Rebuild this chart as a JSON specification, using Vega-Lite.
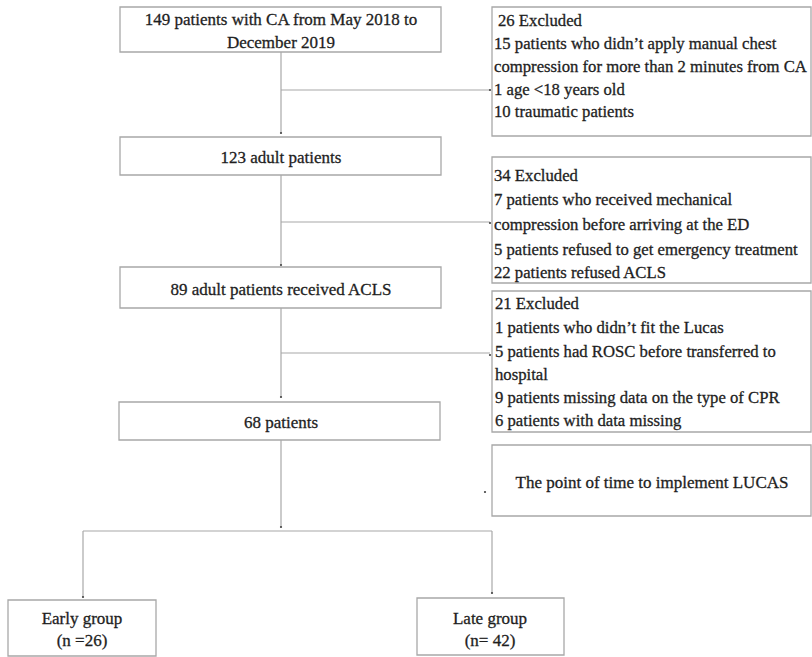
{
  "$schema": "https://vega.github.io/schema/vega-lite/v6.json",
  "width": 812,
  "height": 657,
  "autosize": {"type": "fit", "contains": "padding"},
  "padding": 0,
  "background": "white",
  "config": {"view": {"stroke": null}},
  "datasets": {
    "boxes": [
      {"x1": 120, "x2": 441, "y1": 7, "y2": 52},
      {"x1": 492, "x2": 811, "y1": 7, "y2": 136},
      {"x1": 120, "x2": 441, "y1": 137, "y2": 175},
      {"x1": 492, "x2": 811, "y1": 157, "y2": 283},
      {"x1": 120, "x2": 441, "y1": 267, "y2": 308},
      {"x1": 492, "x2": 811, "y1": 291, "y2": 432},
      {"x1": 119, "x2": 440, "y1": 402, "y2": 440},
      {"x1": 492, "x2": 811, "y1": 445, "y2": 516},
      {"x1": 8, "x2": 156, "y1": 600, "y2": 656},
      {"x1": 417, "x2": 564, "y1": 598, "y2": 655}
    ],
    "lines": [
      {"x1": 281, "y1": 52, "x2": 281, "y2": 133},
      {"x1": 281, "y1": 90, "x2": 490, "y2": 90},
      {"x1": 281, "y1": 175, "x2": 281, "y2": 265},
      {"x1": 281, "y1": 222, "x2": 490, "y2": 222},
      {"x1": 281, "y1": 308, "x2": 281, "y2": 397},
      {"x1": 281, "y1": 353, "x2": 490, "y2": 353},
      {"x1": 281, "y1": 440, "x2": 281, "y2": 527},
      {"x1": 83, "y1": 531, "x2": 492, "y2": 531},
      {"x1": 83, "y1": 531, "x2": 83, "y2": 597},
      {"x1": 492, "y1": 531, "x2": 492, "y2": 593}
    ],
    "dots": [
      {"x": 281, "y": 133},
      {"x": 490, "y": 90},
      {"x": 281, "y": 265},
      {"x": 490, "y": 223},
      {"x": 281, "y": 397},
      {"x": 490, "y": 355},
      {"x": 281, "y": 527},
      {"x": 485, "y": 492},
      {"x": 83, "y": 597},
      {"x": 492, "y": 593}
    ],
    "ctext": [
      {"x": 281, "y": 20, "label": "149 patients with CA from May 2018 to"},
      {"x": 281, "y": 43, "label": "December 2019"},
      {"x": 281, "y": 158, "label": "123 adult patients"},
      {"x": 281, "y": 290, "label": "89 adult patients received ACLS"},
      {"x": 281, "y": 423, "label": "68 patients"},
      {"x": 652, "y": 483, "label": "The point of time to implement LUCAS"},
      {"x": 82, "y": 619, "label": "Early group"},
      {"x": 490, "y": 619, "label": "Late group"},
      {"x": 82, "y": 641, "label": "(n =26)"},
      {"x": 490, "y": 641, "label": "(n= 42)"}
    ],
    "ltext": [
      {"x": 498, "y": 21, "label": "26 Excluded"},
      {"x": 494, "y": 44, "label": "15 patients who didn’t apply manual chest"},
      {"x": 494, "y": 67, "label": "compression for more than 2 minutes from CA"},
      {"x": 494, "y": 90, "label": "1 age <18 years old"},
      {"x": 494, "y": 112, "label": "10 traumatic patients"},
      {"x": 494, "y": 176, "label": "34 Excluded"},
      {"x": 494, "y": 200, "label": "7 patients who received mechanical"},
      {"x": 494, "y": 225, "label": "compression before arriving at the ED"},
      {"x": 494, "y": 250, "label": "5 patients refused to get emergency treatment"},
      {"x": 494, "y": 273, "label": "22 patients refused ACLS"},
      {"x": 495, "y": 304, "label": "21 Excluded"},
      {"x": 495, "y": 328, "label": "1 patients who didn’t fit the Lucas"},
      {"x": 495, "y": 352, "label": "5 patients had ROSC before transferred to"},
      {"x": 495, "y": 375, "label": "hospital"},
      {"x": 495, "y": 398, "label": "9 patients missing data on the type of CPR"},
      {"x": 495, "y": 421, "label": "6 patients with data missing"}
    ]
  },
  "layer": [
    {
      "data": {"name": "boxes"},
      "mark": {"type": "rect", "fill": "white", "stroke": "#a8a8a8", "strokeWidth": 1.3},
      "encoding": {
        "x": {"field": "x1", "type": "quantitative", "scale": {"domain": [0, 812]}, "axis": null},
        "x2": {"field": "x2"},
        "y": {"field": "y1", "type": "quantitative", "scale": {"domain": [657, 0]}, "axis": null},
        "y2": {"field": "y2"}
      }
    },
    {
      "data": {"name": "lines"},
      "mark": {"type": "rule", "stroke": "#a8a8a8", "strokeWidth": 1.2},
      "encoding": {
        "x": {"field": "x1", "type": "quantitative", "scale": {"domain": [0, 812]}, "axis": null},
        "x2": {"field": "x2"},
        "y": {"field": "y1", "type": "quantitative", "scale": {"domain": [657, 0]}, "axis": null},
        "y2": {"field": "y2"}
      }
    },
    {
      "data": {"name": "dots"},
      "mark": {"type": "point", "filled": true, "color": "#444", "size": 5, "opacity": 1},
      "encoding": {
        "x": {"field": "x", "type": "quantitative", "scale": {"domain": [0, 812]}, "axis": null},
        "y": {"field": "y", "type": "quantitative", "scale": {"domain": [657, 0]}, "axis": null}
      }
    },
    {
      "data": {"name": "ctext"},
      "mark": {"type": "text", "align": "center", "baseline": "middle", "font": "Liberation Serif", "fontSize": 17, "fill": "#1e1e1e", "stroke": "#1e1e1e", "strokeWidth": 0.3},
      "encoding": {
        "x": {"field": "x", "type": "quantitative", "scale": {"domain": [0, 812]}, "axis": null},
        "y": {"field": "y", "type": "quantitative", "scale": {"domain": [657, 0]}, "axis": null},
        "text": {"field": "label"}
      }
    },
    {
      "data": {"name": "ltext"},
      "mark": {"type": "text", "align": "left", "baseline": "middle", "font": "Liberation Serif", "fontSize": 16.7, "fill": "#1e1e1e", "stroke": "#1e1e1e", "strokeWidth": 0.3},
      "encoding": {
        "x": {"field": "x", "type": "quantitative", "scale": {"domain": [0, 812]}, "axis": null},
        "y": {"field": "y", "type": "quantitative", "scale": {"domain": [657, 0]}, "axis": null},
        "text": {"field": "label"}
      }
    }
  ]
}
